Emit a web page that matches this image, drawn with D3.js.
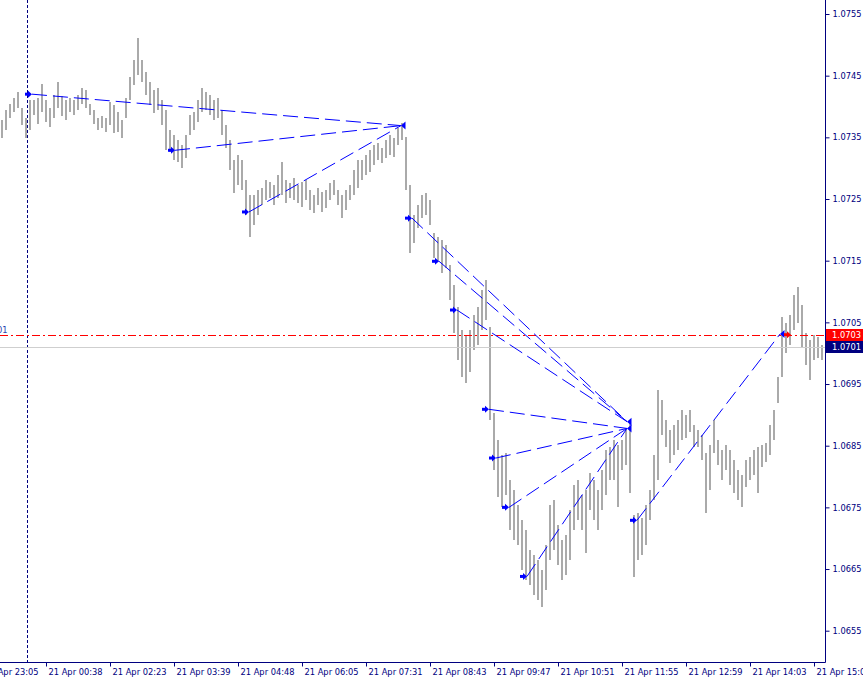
<!DOCTYPE html>
<html>
<head>
<meta charset="utf-8">
<script src="https://cdn.jsdelivr.net/npm/d3@7"></script>
<style>
  html, body { margin: 0; padding: 0; background: #ffffff; }
  svg { display: block; }
  text { font-family: "DejaVu Sans", sans-serif; }
</style>
</head>
<body>
<svg id="chart" width="863" height="677"></svg>
<script>
// ---- DATA ----
const highs = [
1.07378,1.07394,1.07404,1.07414,1.07423,1.07398,1.07381,1.07411,1.07411,1.07414,
1.07436,1.07411,1.07398,1.07419,1.07440,1.07417,1.07411,1.07414,1.07411,1.07419,
1.07430,1.07427,1.07404,1.07394,1.07381,1.07385,1.07381,1.07407,1.07402,1.07391,
1.07378,1.07414,1.07448,1.07475,1.07511,1.07475,1.07456,1.07440,1.07427,1.07430,
1.07411,1.07394,1.07362,1.07354,1.07346,1.07337,1.07354,1.07386,1.07391,1.07411,
1.07430,1.07423,1.07419,1.07411,1.07414,1.07394,1.07370,1.07346,1.07313,1.07321,
1.07313,1.07281,1.07256,1.07256,1.07265,1.07268,1.07281,1.07278,1.07273,1.07289,
1.07310,1.07281,1.07276,1.07284,1.07273,1.07278,1.07281,1.07265,1.07256,1.07268,
1.07261,1.07265,1.07276,1.07281,1.07265,1.07256,1.07265,1.07273,1.07297,1.07313,
1.07313,1.07321,1.07329,1.07337,1.07341,1.07333,1.07346,1.07354,1.07349,1.07365,
1.07373,1.07350,1.07273,1.07224,1.07240,1.07256,1.07260,1.07248,1.07195,1.07188,
1.07183,1.07175,1.07143,1.07110,1.07075,1.07037,1.07029,1.07037,1.07062,1.07075,
1.07102,1.07119,1.07042,1.06903,1.06859,1.06835,1.06838,1.06794,1.06778,1.06754,
1.06729,1.06713,1.06681,1.06672,1.06664,1.06648,1.06689,1.06754,1.06762,1.06721,
1.06697,1.06705,1.06746,1.06786,1.06794,1.06770,1.06778,1.06806,1.06794,1.06778,
1.06810,1.06843,1.06848,1.06859,1.06851,1.06859,1.06875,1.06887,1.06737,1.06741,
1.06733,1.06754,1.06778,1.06835,1.06940,1.06924,1.06892,1.06875,1.06883,1.06892,
1.06908,1.06900,1.06908,1.06883,1.06875,1.06867,1.06838,1.06851,1.06892,1.06859,
1.06843,1.06851,1.06843,1.06827,1.06810,1.06802,1.06827,1.06832,1.06843,1.06848,
1.06851,1.06854,1.06883,1.06908,1.06961,1.07059,1.07049,1.07062,1.07094,1.07107,
1.07078,1.07033,1.07021,1.07029,1.07026,1.07013
];
const lows = [
1.07349,1.07362,1.07381,1.07391,1.07398,1.07370,1.07349,1.07362,1.07386,1.07372,
1.07391,1.07375,1.07367,1.07381,1.07398,1.07385,1.07378,1.07391,1.07386,1.07394,
1.07404,1.07398,1.07386,1.07372,1.07362,1.07365,1.07359,1.07370,1.07357,1.07359,
1.07349,1.07381,1.07411,1.07435,1.07451,1.07440,1.07419,1.07402,1.07389,1.07394,
1.07370,1.07329,1.07326,1.07313,1.07310,1.07300,1.07316,1.07354,1.07362,1.07375,
1.07391,1.07394,1.07386,1.07378,1.07381,1.07354,1.07333,1.07297,1.07260,1.07273,
1.07265,1.07224,1.07188,1.07208,1.07224,1.07240,1.07248,1.07252,1.07240,1.07252,
1.07256,1.07243,1.07252,1.07248,1.07243,1.07237,1.07248,1.07232,1.07227,1.07240,
1.07229,1.07235,1.07248,1.07256,1.07240,1.07219,1.07232,1.07248,1.07256,1.07268,
1.07281,1.07289,1.07294,1.07305,1.07313,1.07308,1.07316,1.07321,1.07318,1.07337,
1.07346,1.07265,1.07162,1.07179,1.07203,1.07219,1.07224,1.07208,1.07154,1.07148,
1.07130,1.07138,1.07086,1.07033,1.06989,1.06961,1.06951,1.06969,1.07005,1.07013,
1.07037,1.07054,1.06892,1.06810,1.06767,1.06750,1.06770,1.06713,1.06697,1.06689,
1.06648,1.06632,1.06624,1.06608,1.06600,1.06588,1.06616,1.06664,1.06681,1.06656,
1.06632,1.06640,1.06664,1.06713,1.06729,1.06713,1.06676,1.06746,1.06729,1.06713,
1.06746,1.06770,1.06794,1.06794,1.06750,1.06810,1.06819,1.06773,1.06637,1.06664,
1.06672,1.06689,1.06729,1.06762,1.06794,1.06867,1.06848,1.06822,1.06835,1.06843,
1.06859,1.06862,1.06872,1.06848,1.06848,1.06827,1.06741,1.06778,1.06838,1.06819,
1.06794,1.06810,1.06786,1.06773,1.06762,1.06750,1.06783,1.06794,1.06802,1.06773,
1.06815,1.06823,1.06835,1.06859,1.06919,1.06961,1.07000,1.07013,1.07037,1.07049,
1.07010,1.06981,1.06957,1.06989,1.06992,1.06989
];

const priceTicks = [1.0755,1.0745,1.0735,1.0725,1.0715,1.0705,1.0695,1.0685,1.0675,1.0665,1.0655];
const timeTickBars = [-5,11,27,43,59,75,91,107,123,139,155,171,187,203];
const timeLabels = ["20 Apr 23:05","21 Apr 00:38","21 Apr 02:23","21 Apr 03:39","21 Apr 04:48",
  "21 Apr 06:05","21 Apr 07:31","21 Apr 08:43","21 Apr 09:47","21 Apr 10:51","21 Apr 11:55",
  "21 Apr 12:59","21 Apr 14:03","21 Apr 15:07"];

const tradeOpenBar    = [7.5, 43.25, 61.75, 102.5, 109.25, 113.75, 121.75, 123.5, 126.75, 131.25, 158.75];
const tradeOpenPrice  = [1.07420,1.07329,1.07229,1.07219,1.07149,1.07070,1.06909,1.06830,1.06750,1.06638,1.06729];
const tradeCloseBar   = [99.75, 99.75, 99.75, 156.25, 156.25, 156.25, 156.25, 156.25, 156.25, 156.25, 194.5];
const tradeClosePrice = [1.07369,1.07369,1.07369,1.06889,1.06889,1.06889,1.06878,1.06878,1.06878,1.06878,1.07031];

const openPositionBar = 197.25;
const askPrice = 1.0703;
const bidPrice = 1.0701;
const separatorBar = 6.25;

// ---- LAYOUT ----
const plotRight = 825, plotBottom = 662;
const navy = "#000080";

const svg = d3.select("#chart");
const x = d3.scaleLinear().domain([0, 205]).range([2, 822]);
const y = d3.scaleLinear().domain([1.0655, 1.0755]).range([630.7, 14]);

svg.append("defs").append("clipPath").attr("id", "plotclip")
  .append("rect").attr("x", 0).attr("y", 0).attr("width", plotRight).attr("height", plotBottom);

const plot = svg.append("g").attr("clip-path", "url(#plotclip)");

// period separator
plot.append("line")
  .attr("x1", Math.round(x(separatorBar)) + 0.5).attr("x2", Math.round(x(separatorBar)) + 0.5)
  .attr("y1", 0).attr("y2", plotBottom)
  .attr("stroke", navy).attr("stroke-width", 1).attr("stroke-dasharray", "3,2");

// bars
const bars = highs.map((h, i) => ({ i, h, l: lows[i] }));
plot.append("g").selectAll("rect").data(bars).join("rect")
  .attr("x", d => x(d.i) - 1)
  .attr("width", 2)
  .attr("y", d => y(d.h))
  .attr("height", d => Math.max(1, y(d.l) - y(d.h)))
  .attr("fill", "#aaaaaa")
  .attr("shape-rendering", "crispEdges");

// bid line
plot.append("line")
  .attr("x1", 0).attr("x2", plotRight)
  .attr("y1", Math.round(y(bidPrice)) + 0.5).attr("y2", Math.round(y(bidPrice)) + 0.5)
  .attr("stroke", "#cfcfcf").attr("stroke-width", 1);

// level line (red dash-dot)
plot.append("line")
  .attr("x1", 0).attr("x2", plotRight)
  .attr("y1", Math.round(y(askPrice)) + 0.5).attr("y2", Math.round(y(askPrice)) + 0.5)
  .attr("stroke", "#ff0000").attr("stroke-width", 1).attr("stroke-dasharray", "8,3,2,3");

// trade lines
const trades = tradeOpenBar.map((b, k) => ({
  ob: b, op: tradeOpenPrice[k], cb: tradeCloseBar[k], cp: tradeClosePrice[k]
}));
plot.append("g").selectAll("line").data(trades).join("line")
  .attr("x1", d => x(d.ob)).attr("y1", d => y(d.op))
  .attr("x2", d => x(d.cb)).attr("y2", d => y(d.cp))
  .attr("stroke", "#0000ff").attr("stroke-width", 1).attr("stroke-dasharray", "15,6");

// open markers (right arrows)
function rightArrow(g, tx, ty, color) {
  g.append("path")
    .attr("d", `M${tx},${ty} L${tx-4},${ty-3.5} L${tx-4},${ty+3.5} Z`)
    .attr("fill", color);
  g.append("rect").attr("x", tx - 7).attr("y", ty - 1.5).attr("width", 3.5).attr("height", 3)
    .attr("fill", color);
}
const markers = plot.append("g");
trades.forEach(d => rightArrow(markers, x(d.ob), y(d.op), "#0000ff"));

// close markers (left-pointing triangles)
const closes = [];
trades.forEach(d => {
  const key = d.cb + "_" + d.cp;
  if (!closes.find(c => c.key === key)) closes.push({ key, b: d.cb, p: d.cp });
});
markers.selectAll("path.close").data(closes).join("path")
  .attr("class", "close")
  .attr("d", d => {
    const tx = x(d.b), ty = y(d.p);
    return `M${tx},${ty} L${tx+4.5},${ty-4} L${tx+4.5},${ty+4} Z`;
  })
  .attr("fill", "#0000ff");

// open position marker (red)
rightArrow(markers, x(openPositionBar), y(askPrice), "#ff0000");

// left clipped label
svg.append("text")
  .attr("x", 7.5).attr("y", Math.round(y(askPrice)) - 2)
  .attr("text-anchor", "end")
  .attr("font-size", "8.3px").attr("fill", "#2a3fb0")
  .text(d3.format(".4f")(bidPrice));

// ---- AXES ----
svg.append("line").attr("x1", plotRight + 0.5).attr("x2", plotRight + 0.5)
  .attr("y1", 0).attr("y2", plotBottom + 0.5).attr("stroke", navy).attr("stroke-width", 1);
svg.append("line").attr("x1", 0).attr("x2", plotRight + 0.5)
  .attr("y1", plotBottom + 0.5).attr("y2", plotBottom + 0.5).attr("stroke", navy).attr("stroke-width", 1);

const yAxis = d3.axisRight(y).tickValues(priceTicks).tickFormat(d3.format(".4f"))
  .tickSize(4).tickPadding(3);
const gy = svg.append("g").attr("transform", `translate(${plotRight + 0.5},0)`).call(yAxis);
gy.select(".domain").remove();
gy.selectAll(".tick line").attr("stroke", navy);
gy.selectAll(".tick text").attr("fill", navy).attr("font-size", "8.3px")
  .attr("font-family", "DejaVu Sans, sans-serif");

const xAxis = d3.axisBottom(x).tickValues(timeTickBars)
  .tickFormat((d, i) => timeLabels[i]).tickSize(4).tickPadding(3);
const gx = svg.append("g").attr("transform", `translate(0,${plotBottom + 0.5})`).call(xAxis);
gx.select(".domain").remove();
gx.selectAll(".tick line").attr("stroke", navy);
gx.selectAll(".tick text").attr("fill", navy).attr("font-size", "8.3px")
  .attr("font-family", "DejaVu Sans, sans-serif")
  .attr("text-anchor", "start").attr("x", 2);

// price label boxes
const boxes = [
  { p: askPrice, fill: "#ff0000" },
  { p: bidPrice, fill: navy }
];
const gb = svg.append("g");
boxes.forEach(b => {
  const cy = y(b.p);
  gb.append("rect").attr("x", plotRight + 1).attr("y", Math.round(cy) - 6)
    .attr("width", 37).attr("height", 12).attr("fill", b.fill);
  gb.append("text").attr("x", plotRight + 7).attr("y", Math.round(cy) + 3)
    .attr("fill", "#ffffff").attr("font-size", "8.3px")
    .text(d3.format(".4f")(b.p));
});
</script>
</body>
</html>
